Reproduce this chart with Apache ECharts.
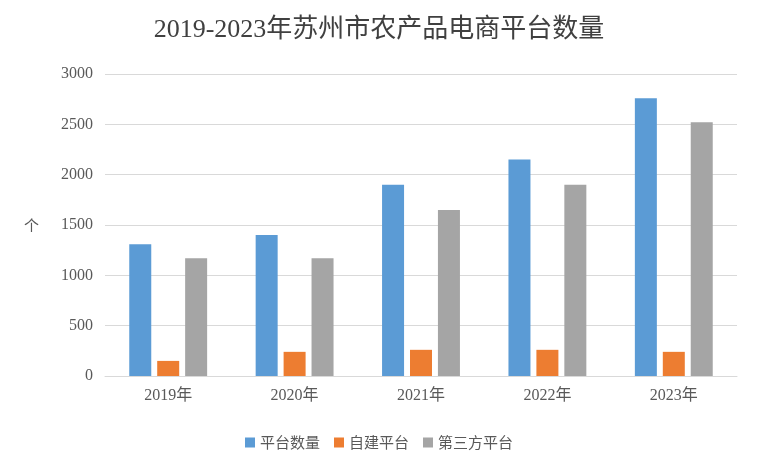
<!DOCTYPE html>
<html><head><meta charset="utf-8">
<script src="https://cdn.jsdelivr.net/npm/echarts@6/dist/echarts.min.js"></script>
<style>html,body{margin:0;padding:0;background:#fff}#c{width:758px;height:475px}</style>
</head><body><div id="c"></div>
<script>
const categories = ['2019年','2020年','2021年','2022年','2023年'];
const platformTotal = [1310, 1400, 1900, 2150, 2760];
const selfBuilt = [150, 240, 260, 260, 240];
const thirdParty = [1170, 1170, 1650, 1900, 2520];
const seriesNames = ['平台数量','自建平台','第三方平台'];
const font = '"Liberation Serif","Noto Sans CJK SC",serif';
const chart = echarts.init(document.getElementById('c'));
chart.setOption({
  animation:false,
  title:{text:'2019-2023年苏州市农产品电商平台数量',left:'center',top:12,
    textStyle:{fontFamily:font,fontSize:26,fontWeight:'normal',color:'#404040'}},
  legend:{bottom:20,itemWidth:10,itemHeight:10,itemGap:14,icon:'rect',
    textStyle:{fontFamily:'"Noto Sans CJK SC"',fontSize:15,color:'#595959'},data:seriesNames},
  grid:{left:105,right:21,top:74,bottom:99},
  xAxis:{type:'category',data:categories,
    axisLine:{lineStyle:{color:'#d9d9d9'}},axisTick:{show:false},
    axisLabel:{fontFamily:font,fontSize:16,color:'#595959',margin:12}},
  yAxis:{type:'value',min:0,max:3000,interval:500,name:'个',nameLocation:'middle',nameGap:66,nameRotate:0,
    nameTextStyle:{fontFamily:'"Noto Sans CJK SC"',fontSize:15,color:'#595959'},
    axisLabel:{fontFamily:font,fontSize:16,color:'#595959',margin:12,formatter:v=>String(v)},
    splitLine:{lineStyle:{color:'#d9d9d9'}}},
  series:[
    {name:seriesNames[0],type:'bar',data:platformTotal,barWidth:22,barGap:'27%',itemStyle:{color:'#5B9BD5'}},
    {name:seriesNames[1],type:'bar',data:selfBuilt,barWidth:22,barGap:'27%',itemStyle:{color:'#ED7D31'}},
    {name:seriesNames[2],type:'bar',data:thirdParty,barWidth:22,barGap:'27%',itemStyle:{color:'#A5A5A5'}}
  ]
});
</script></body></html>
